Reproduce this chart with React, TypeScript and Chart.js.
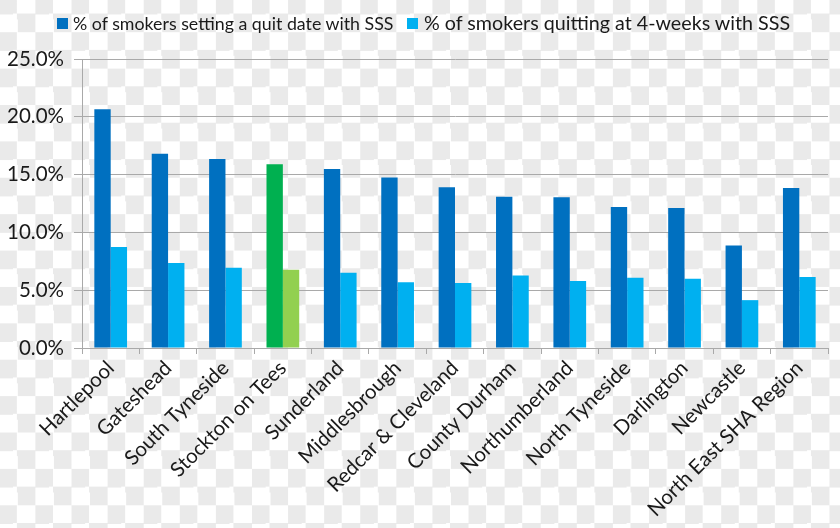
import React, { useEffect, useRef } from "react";
import { Chart, registerables } from "chart.js";

Chart.register(...registerables);

const categories = [
  "Hartlepool",
  "Gateshead",
  "South Tyneside",
  "Stockton on Tees",
  "Sunderland",
  "Middlesbrough",
  "Redcar & Cleveland",
  "County Durham",
  "Northumberland",
  "North Tyneside",
  "Darlington",
  "Newcastle",
  "North East SHA Region",
];

const quitDateSet = [20.65, 16.8, 16.35, 15.9, 15.49, 14.74, 13.9, 13.09, 13.03, 12.19, 12.1, 8.86, 13.84];
const quitAt4Weeks = [8.74, 7.35, 6.95, 6.77, 6.52, 5.68, 5.62, 6.28, 5.79, 6.08, 5.99, 4.14, 6.14];

const seriesNames = [
  "% of smokers setting a quit date with SSS",
  "% of smokers quitting at 4-weeks with SSS",
];

const highlighted = "Stockton on Tees";
const yMin = 0;
const yMax = 25;
const yStep = 5;

const DARK = "#0070C0";
const LIGHT = "#00B0F0";
const DARK_HI = "#00B050";
const LIGHT_HI = "#92D050";
const GRID = "#a9a9a9";
const TEXT = "#1a1a1a";
const FONT = "Lato, 'Open Sans', sans-serif";

export default function App() {
  const ref = useRef<HTMLCanvasElement | null>(null);

  useEffect(() => {
    if (!ref.current) return;
    const chart = new Chart(ref.current, {
      type: "bar",
      data: {
        labels: categories,
        datasets: [
          {
            label: seriesNames[0],
            data: quitDateSet,
            backgroundColor: categories.map((c) => (c === highlighted ? DARK_HI : DARK)),
            categoryPercentage: 0.57,
            barPercentage: 1,
          },
          {
            label: seriesNames[1],
            data: quitAt4Weeks,
            backgroundColor: categories.map((c) => (c === highlighted ? LIGHT_HI : LIGHT)),
            categoryPercentage: 0.57,
            barPercentage: 1,
          },
        ],
      },
      options: {
        responsive: false,
        animation: false,
        devicePixelRatio: 1,
        layout: { padding: { top: 59, right: 12, left: 0, bottom: 0 } },
        plugins: {
          legend: { display: false },
          tooltip: { enabled: false },
        },
        scales: {
          x: {
            afterFit: (s: any) => {
              s.height = 180;
            },
            grid: {
              display: true,
              drawOnChartArea: false,
              drawTicks: true,
              tickLength: 6,
              offset: true,
              color: GRID,
            },
            border: { display: true, color: GRID },
            ticks: {
              autoSkip: false,
              minRotation: 45,
              maxRotation: 45,
              padding: 2,
              color: TEXT,
              font: { family: FONT, size: 20.5 },
            },
          },
          y: {
            min: yMin,
            max: yMax,
            afterFit: (s: any) => {
              s.width = 82;
            },
            grid: {
              color: GRID,
              tickLength: 8,
              drawTicks: true,
            },
            border: { display: true, color: GRID },
            ticks: {
              stepSize: yStep,
              padding: 10,
              color: TEXT,
              font: { family: FONT, size: 20.5 },
              callback: (v: any) => Number(v).toFixed(1) + "%",
            },
          },
        },
      },
    });
    return () => chart.destroy();
  }, []);

  const checker = {
    position: "absolute" as const,
    left: 0,
    top: 0,
    width: 840,
    height: 528,
    backgroundColor: "#ffffff",
    backgroundImage:
      "conic-gradient(#ffffff 25%, #eaeaea 0 50%, #ffffff 0 75%, #eaeaea 0)",
    backgroundSize: "36.1px 36.4px",
    backgroundPosition: "-0.7px -4.2px",
    overflow: "hidden",
  };

  return (
    <div style={checker}>
      <canvas ref={ref} width={840} height={528} style={{ position: "absolute", left: 0, top: 0 }} />
      <div style={{ position: "absolute", left: 57, top: 18, width: 11, height: 11, background: DARK }} />
      <div
        style={{
          position: "absolute",
          left: 73,
          top: 12,
          fontFamily: FONT,
          fontSize: 17.8,
          lineHeight: "22px",
          color: TEXT,
          whiteSpace: "nowrap",
        }}
      >
        {seriesNames[0]}
      </div>
      <div style={{ position: "absolute", left: 407, top: 18, width: 11, height: 11, background: LIGHT }} />
      <div
        style={{
          position: "absolute",
          left: 424,
          top: 10,
          fontFamily: FONT,
          fontSize: 19.7,
          lineHeight: "26px",
          color: TEXT,
          whiteSpace: "nowrap",
        }}
      >
        {seriesNames[1]}
      </div>
    </div>
  );
}
